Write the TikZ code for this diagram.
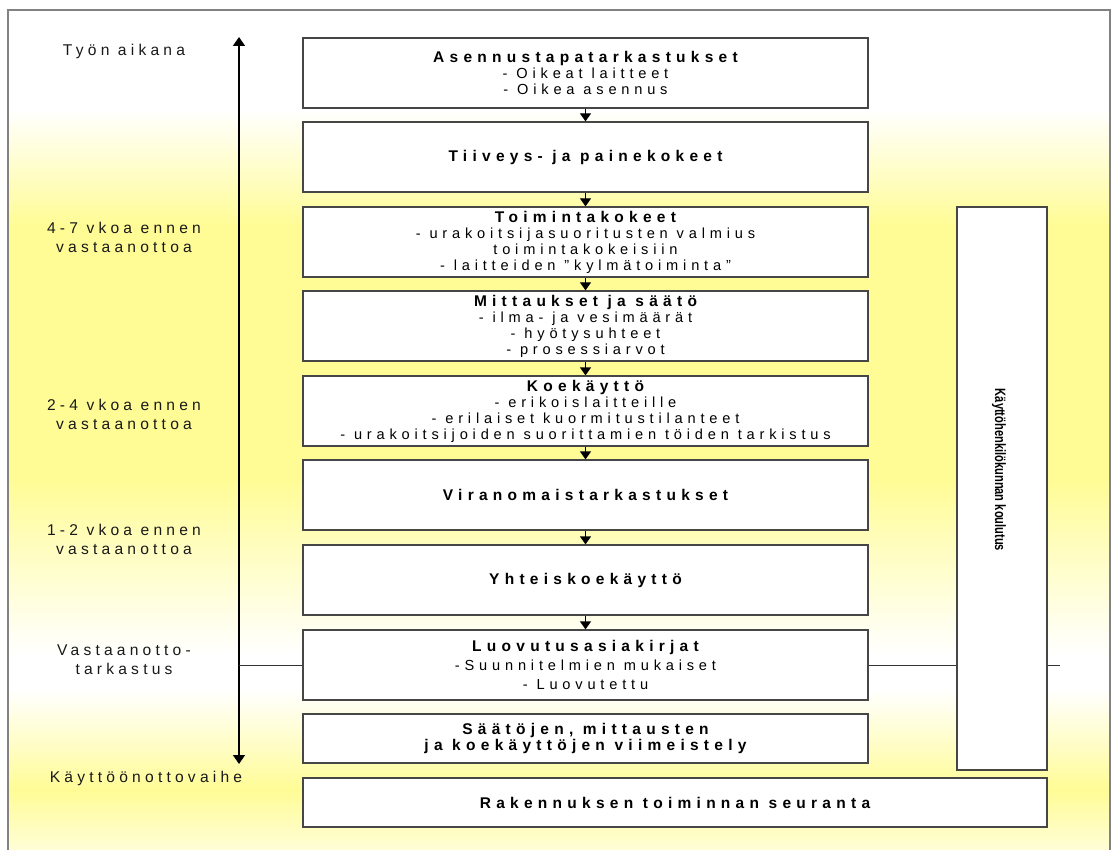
\documentclass[tikz,border=0pt]{standalone}
\usepackage{fontspec}
\setmainfont{Liberation Sans}[LetterSpace=33]
\newfontfamily\narrowfont{Liberation Sans}
\newfontfamily\lblfont{Liberation Sans}[LetterSpace=27]
\newfontfamily\hdfont{Liberation Sans}[LetterSpace=34]
\newcommand{\hd}[1]{{\hdfont\fontsize{15.5}{16}\selectfont\bfseries #1}}
\usetikzlibrary{arrows.meta}
\definecolor{ylw}{RGB}{255,252,150}
\definecolor{pale}{RGB}{255,254,215}
\definecolor{boxline}{RGB}{70,70,70}
\definecolor{framegray}{RGB}{130,130,130}
\tikzset{
  box/.style={draw=boxline, line width=1.3pt, fill=white, minimum width=565pt, minimum height=70pt, align=center, inner sep=2pt, font=\fontsize{14.6}{16}\selectfont},
  lbl/.style={align=center, font=\lblfont\fontsize{15.6}{19}\selectfont, text=black!90},
  conn/.style={line width=1.3pt, -{Triangle[width=11pt,length=8pt]}},
  mainarrow/.style={line width=1.5pt, {Triangle[width=12pt,length=9pt]}-{Triangle[width=12pt,length=9pt]}},
  thin/.style={line width=0.8pt, draw=black!80}
}
\begin{document}
\begin{tikzpicture}[x=1pt,y=-1pt]
\useasboundingbox (0,0) rectangle (1111,850);
% background
\fill[white] (0,0) rectangle (1111,850);
\fill[white] (8,10) rectangle (1110,110);
\shade[top color=white,bottom color=ylw] (8,110) rectangle (1110,225);
\fill[ylw] (8,224.5) rectangle (1110,480);
\shade[top color=ylw,bottom color=white] (8,479.5) rectangle (1110,655);
\fill[white] (8,654.5) rectangle (1110,690);
\shade[top color=white,bottom color=ylw] (8,689.5) rectangle (1110,790);
\shade[top color=ylw,bottom color=pale] (8,789.5) rectangle (1110,850);
\draw[framegray, line width=1.3pt] (8,852) -- (8,10) -- (1110,10) -- (1110,852);

% boxes
\node[box] (b1) at (585.5,73) {\hd{Asennustapatarkastukset}\\- Oikeat laitteet\\- Oikea asennus};
\node[box] (b2) at (585.5,157) {\hd{Tiiveys- ja painekokeet}};
\node[box] (b3) at (585.5,242) {\hd{Toimintakokeet}\\- urakoitsijasuoritusten valmius\\toimintakokeisiin\\- laitteiden "kylmätoiminta"};
\node[box] (b4) at (585.5,326) {\hd{Mittaukset ja säätö}\\- ilma- ja vesimäärät\\- hyötysuhteet\\- prosessiarvot};
\node[box] (b5) at (585.5,411) {\hd{Koekäyttö}\\- erikoislaitteille\\- erilaiset kuormitustilanteet\\- urakoitsijoiden suorittamien töiden tarkistus};
\node[box] (b6) at (585.5,495) {\hd{Viranomaistarkastukset}};
\node[box] (b7) at (585.5,580) {\hd{Yhteiskoekäyttö}};
\node[box] (b8) at (585.5,665) {\hd{Luovutusasiakirjat}\\[3.5pt]-Suunnitelmien mukaiset\\[3pt]- Luovutettu};
\node[box, minimum height=49pt] (b9) at (585.5,738.5) {\hd{Säätöjen, mittausten}\\\hd{ja koekäyttöjen viimeistely}};
\node[box, minimum width=744pt, minimum height=49pt] (b10) at (675,802.5) {\hd{Rakennuksen toiminnan seuranta}};
\node[box, minimum width=90pt, minimum height=563pt] (rb) at (1002,488.5) {};
\node[rotate=-90, inner sep=0pt] (rbt) at (999,470) {\scalebox{0.74}[1]{\narrowfont\fontsize{15}{18}\selectfont\bfseries Käyttöhenkilökunnan koulutus}};

% connectors between boxes
\draw[conn] (b1.south) -- (b2.north);
\draw[conn] (b2.south) -- (b3.north);
\draw[conn] (b3.south) -- (b4.north);
\draw[conn] (b4.south) -- (b5.north);
\draw[conn] (b5.south) -- (b6.north);
\draw[conn] (b6.south) -- (b7.north);
\draw[conn] (b7.south) -- (b8.north);

% timeline
\coordinate (atop) at (239,37);
\coordinate (abot) at (239,764);
\draw[mainarrow] (atop) -- (abot);
\coordinate (hl) at (239,665);
\coordinate (hr) at (1060,665);
\draw[thin] (hl) -- (b8.west);
\draw[thin] (b8.east) -- (rb.west |- b8.east);
\draw[thin] (rb.east |- b8.east) -- (hr);

% left labels
\node[lbl] (l1) at (124,51) {Työn aikana};
\node[lbl] (l2) at (124,237) {4-7 vkoa ennen\\vastaanottoa};
\node[lbl] (l3) at (124,414) {2-4 vkoa ennen\\vastaanottoa};
\node[lbl] (l4) at (124,539) {1-2 vkoa ennen\\vastaanottoa};
\node[lbl] (l5) at (124,660) {Vastaanotto-\\tarkastus};
\node[lbl] (l6) at (146,778) {Käyttöönottovaihe};
\end{tikzpicture}
\end{document}
